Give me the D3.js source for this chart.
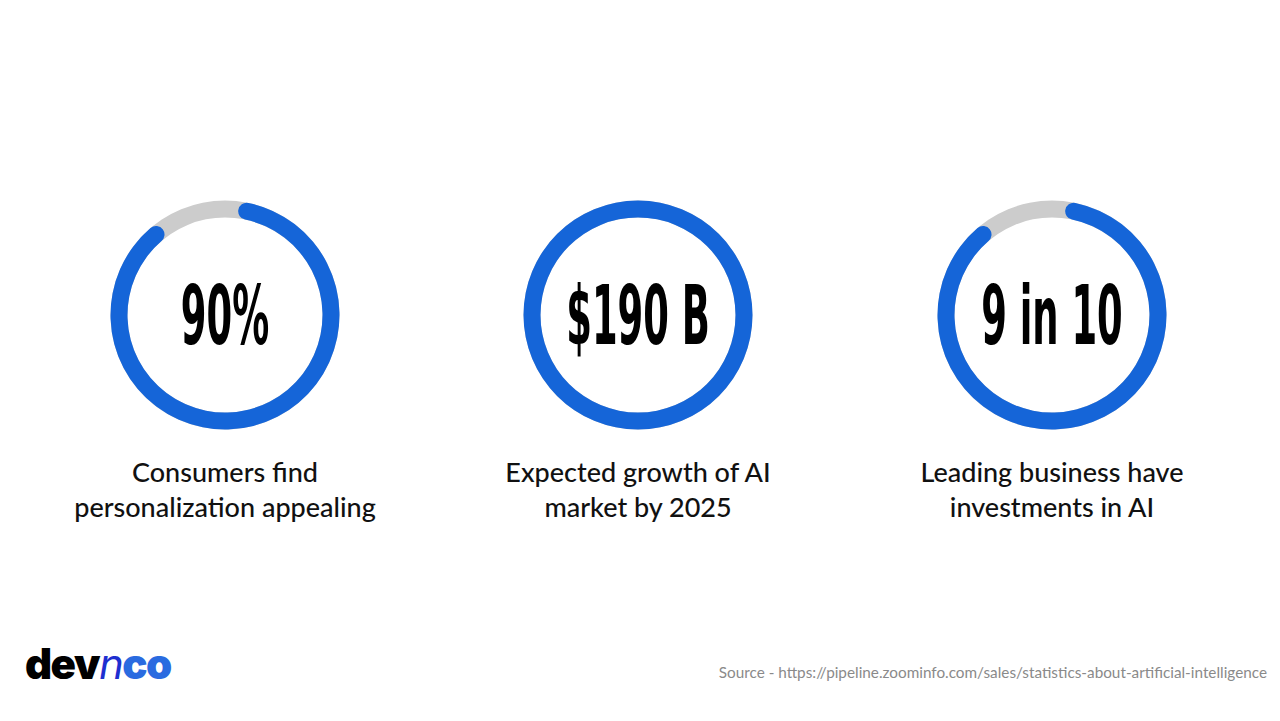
<!DOCTYPE html>
<html><head><meta charset="utf-8">
<script src="https://cdn.jsdelivr.net/npm/d3@7"></script>
<style>body{margin:0;background:#fff}</style></head>
<body><svg id="c" width="1280" height="721"></svg>
<script>
const values = ["90%", "$190 B", "9 in 10"];
const shares = [0.88, 1.0, 0.88];
const labels = [["Consumers find","personalization appealing"],["Expected growth of AI","market by 2025"],["Leading business have","investments in AI"]];
const centers = [225, 638, 1052];
const svg = d3.select("#c");
const R = 106, T = 17;
const arc = d3.arc().innerRadius(R - T/2).outerRadius(R + T/2);
const rarc = d3.arc().innerRadius(R - T/2).outerRadius(R + T/2).cornerRadius(T/2);
values.forEach((v, i) => {
  const g = svg.append("g").attr("transform", `translate(${centers[i]},315)`);
  g.append("path").attr("d", arc({startAngle:0,endAngle:2*Math.PI})).attr("fill","#cccccc");
  const off = 0.02*2*Math.PI;
  if (shares[i] >= 1) g.append("path").attr("d", arc({startAngle:0,endAngle:2*Math.PI})).attr("fill","#1565d8");
  else g.append("path").attr("d", rarc({startAngle:off,endAngle:off+shares[i]*2*Math.PI})).attr("fill","#1565d8");
  g.append("text").attr("y",29).attr("text-anchor","middle")
    .attr("font-family","'DejaVu Sans Condensed','Liberation Sans',sans-serif")
    .attr("font-weight","bold").attr("font-size",82).attr("fill","#000")
    .attr("transform","scale(0.5,1)").attr("x",0).text(v);
  labels[i].forEach((l, j) => {
    svg.append("text").attr("x",centers[i]).attr("y",482+j*35).attr("text-anchor","middle")
      .attr("font-family","Lato, 'Noto Sans', sans-serif").attr("font-weight","500").attr("font-size",27).attr("fill","#111").text(l);
  });
});
const logo = svg.append("text").attr("x",25).attr("y",679).attr("font-family","Inter, 'Noto Sans', sans-serif").attr("font-weight","900").attr("font-size",42).attr("letter-spacing",-1.5);
logo.append("tspan").attr("fill","#000").text("dev");
logo.append("tspan").attr("fill","#1e2fd0").attr("font-style","italic").attr("font-weight","400").text("n");
logo.append("tspan").attr("fill","#2a6be0").text("co");
svg.append("text").attr("x",1267).attr("y",678).attr("text-anchor","end").attr("font-family","Lato, sans-serif").attr("font-size",15.3).attr("fill","#8a8a8a").text("Source - https://pipeline.zoominfo.com/sales/statistics-about-artificial-intelligence");
</script></body></html>
